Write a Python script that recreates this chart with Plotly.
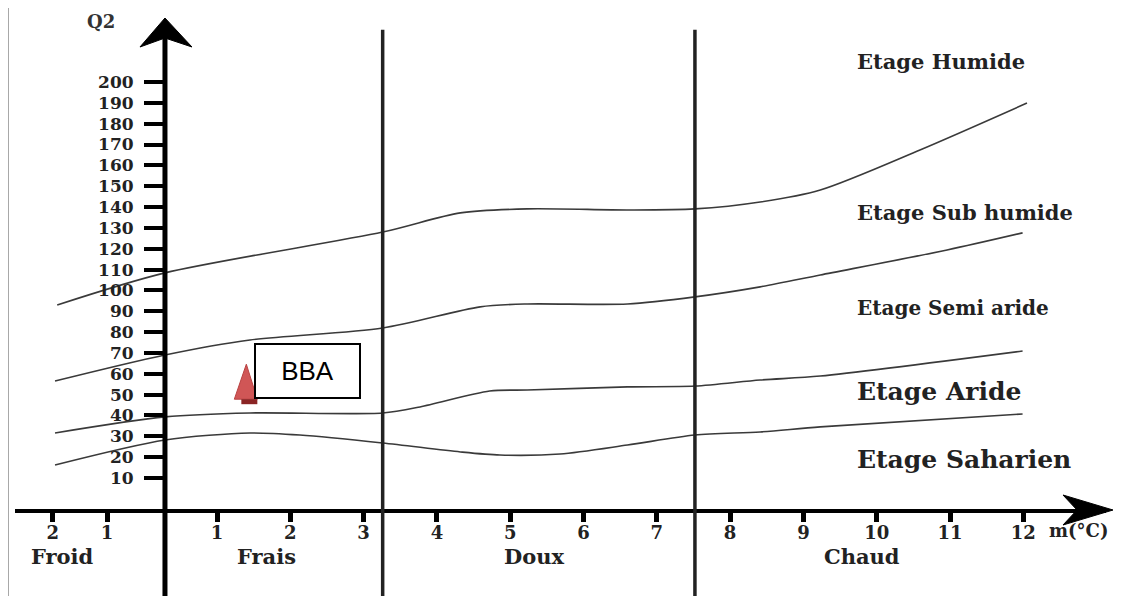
import plotly.graph_objects as go

# ---------------- data ----------------
# x in m (°C, mean minimum of coldest month), y in Q2 (Emberger quotient)
humide_m = [-1.18, 0.29, 3.26, 4.32, 5.23, 6.60, 7.52, 8.41, 9.23, 10.59, 12.05]
humide_q = [93.0, 108.4, 128.0, 137.2, 139.1, 138.6, 139.1, 142.4, 148.2, 167.4, 189.9]

subhum_m = [-1.21, 0.29, 1.45, 3.26, 4.59, 5.23, 6.60, 7.52, 8.41, 9.23, 10.96, 11.99]
subhum_q = [56.5, 69.0, 76.2, 82.0, 92.1, 93.5, 93.5, 96.9, 101.7, 107.4, 119.4, 127.6]

semiar_m = [-1.21, 0.29, 1.45, 3.26, 3.77, 4.72, 5.23, 6.60, 7.52, 8.41, 9.23, 11.99]
semiar_q = [31.6, 39.3, 41.2, 41.2, 44.1, 51.7, 52.2, 53.7, 54.1, 57.0, 58.9, 70.9]

aride_m = [-1.21, 0.29, 1.45, 2.13, 3.26, 4.32, 4.86, 5.68, 6.60, 7.52, 8.41, 9.23, 11.99]
aride_q = [16.2, 28.2, 31.6, 30.6, 26.8, 22.5, 21.0, 21.5, 25.8, 30.6, 32.1, 34.5, 40.7]

station_name = ["BBA"]
station_m = [1.40]
station_q = [55.0]

y_ticks = [10, 20, 30, 40, 50, 60, 70, 80, 90, 100, 110, 120, 130, 140, 150,
           160, 170, 180, 190, 200]
x_tick_pos = [-1.24, -0.50, 1, 2, 3, 4, 5, 6, 7, 8, 9, 10, 11, 12]
x_tick_text = ["2", "1", "1", "2", "3", "4", "5", "6", "7", "8", "9", "10", "11", "12"]

zone_names = ["Etage Humide", "Etage Sub humide", "Etage Semi aride",
              "Etage Aride", "Etage Saharien"]
zone_m = [9.71, 9.71, 9.71, 9.71, 9.71]
zone_q = [209.6, 137.6, 91.6, 51.3, 19.1]
zone_size = [21, 21, 20, 25, 25]

winter_names = ["Froid", "Frais", "Doux", "Chaud"]
winter_m = [-1.11, 1.68, 5.33, 9.80]

divider_m = [3.26, 7.52]   # vertical limits between winter types
y_axis_m = 0.29            # position of the Q2 axis

X_RANGE = [-1.756, 13.128]
Y_RANGE = [-4.88, 230.7]

SERIF = "DejaVu Serif"
LINE_COL = "#3a3a3a"

fig = go.Figure()

for xs, ys in [(humide_m, humide_q), (subhum_m, subhum_q),
               (semiar_m, semiar_q), (aride_m, aride_q)]:
    fig.add_trace(go.Scatter(x=xs, y=ys, mode="lines",
                             line=dict(color=LINE_COL, width=1.6, shape="spline",
                                       smoothing=0.8),
                             hoverinfo="skip", showlegend=False))

y_pos = (y_axis_m - X_RANGE[0]) / (X_RANGE[1] - X_RANGE[0])

shapes = []
# Q2 axis line (extends below the m axis)
shapes.append(dict(type="line", xref="x", yref="paper", x0=y_axis_m, x1=y_axis_m,
                   y0=-0.2, y1=0.97, line=dict(color="black", width=5)))
# Q2 axis arrowhead
shapes.append(dict(type="path", xref="x", yref="paper", xsizemode="pixel",
                   ysizemode="pixel", xanchor=y_axis_m, yanchor=1.0,
                   path="M 0,0 L -25,-29 L 0,-20 L 27,-29 Z",
                   fillcolor="black", line=dict(color="black", width=1)))
# m axis arrowhead
shapes.append(dict(type="path", xref="paper", yref="paper", xsizemode="pixel",
                   ysizemode="pixel", xanchor=1.0, yanchor=0.0,
                   path="M 7,-1 L -43,14 L -29,-1 L -43,-16 Z",
                   fillcolor="black", line=dict(color="black", width=1)))
# vertical dividers
for dm in divider_m:
    shapes.append(dict(type="line", xref="x", yref="paper", x0=dm, x1=dm,
                       y0=-0.2, y1=0.976, line=dict(color="#222222", width=3.5)))
# outer frame
shapes.append(dict(type="rect", xref="paper", yref="paper",
                   x0=(8 - 15) / 1091, x1=(1119 - 15) / 1091,
                   y0=-0.2, y1=(509 - 5) / 491,
                   line=dict(color="#a8a8a8", width=2), layer="below"))
# station marker (tall triangle, pixel sized, anchored on data)
for sm, sq in zip(station_m, station_q):
    shapes.append(dict(type="path", xref="x", yref="y", xsizemode="pixel",
                       ysizemode="pixel", xanchor=sm, yanchor=sq,
                       path="M -12,-15 L 11,-15 L 0,20 Z",
                       fillcolor="#d05656", line=dict(color="#b84040", width=1)))
    shapes.append(dict(type="path", xref="x", yref="y", xsizemode="pixel",
                       ysizemode="pixel", xanchor=sm, yanchor=sq,
                       path="M -5,-15 L 11,-15 L 11,-20 L -5,-20 Z",
                       fillcolor="#8a2424", line=dict(color="#8a2424", width=0)))

annotations = []
for name, sm, sq in zip(station_name, station_m, station_q):
    annotations.append(dict(x=sm, y=sq, xref="x", yref="y", text=name,
                            showarrow=False, xanchor="left", yanchor="middle",
                            xshift=8, yshift=13, width=101, height=50,
                            bordercolor="black", borderwidth=2, borderpad=1,
                            bgcolor="white", align="center",
                            font=dict(family="Liberation Sans", size=26,
                                      color="black")))
for name, zm, zq, zs in zip(zone_names, zone_m, zone_q, zone_size):
    annotations.append(dict(x=zm, y=zq, xref="x", yref="y", text=name,
                            showarrow=False, xanchor="left", yanchor="middle",
                            font=dict(family=SERIF, size=zs, color="#222",
                                      weight="bold")))
for name, wm in zip(winter_names, winter_m):
    annotations.append(dict(x=wm, y=(509 - 556) / 491, xref="x", yref="paper",
                            text=name, showarrow=False, xanchor="center",
                            yanchor="middle",
                            font=dict(family=SERIF, size=21, color="#222",
                                      weight="bold")))
annotations.append(dict(x=-0.58, y=228.8, xref="x", yref="y", text="Q2",
                        showarrow=False, xanchor="center", yanchor="middle",
                        font=dict(family=SERIF, size=18, color="#333",
                                  weight="bold")))
annotations.append(dict(x=(1047 - 15) / 1091, y=(509 - 530) / 491, xref="paper",
                        yref="paper", text="m(°C)", showarrow=False,
                        xanchor="left", yanchor="middle",
                        font=dict(family=SERIF, size=18, color="#222",
                                  weight="bold")))

# the page body adds an 8 px offset, so the margins are shifted to compensate
fig.update_layout(
    width=1126, height=596,
    margin=dict(l=7, r=28, t=10, b=95),
    paper_bgcolor="white", plot_bgcolor="white",
    showlegend=False,
    shapes=shapes, annotations=annotations,
    xaxis=dict(range=X_RANGE, showgrid=False, zeroline=False,
               showline=True, linewidth=4, linecolor="black",
               ticks="outside", ticklen=9, tickwidth=5, tickcolor="black",
               tickmode="array", tickvals=x_tick_pos, ticktext=x_tick_text,
               ticklabelstandoff=-5,
               tickfont=dict(family=SERIF, size=18, color="#222", weight="bold")),
    yaxis=dict(range=Y_RANGE, showgrid=False, zeroline=False, showline=False,
               anchor="free", position=y_pos, side="left",
               ticks="outside", ticklen=21, tickwidth=4, tickcolor="black",
               tickmode="array", tickvals=y_ticks,
               ticklabelstandoff=7,
               tickfont=dict(family=SERIF, size=17, color="#222", weight="bold")),
)

fig.write_html("out.html")
